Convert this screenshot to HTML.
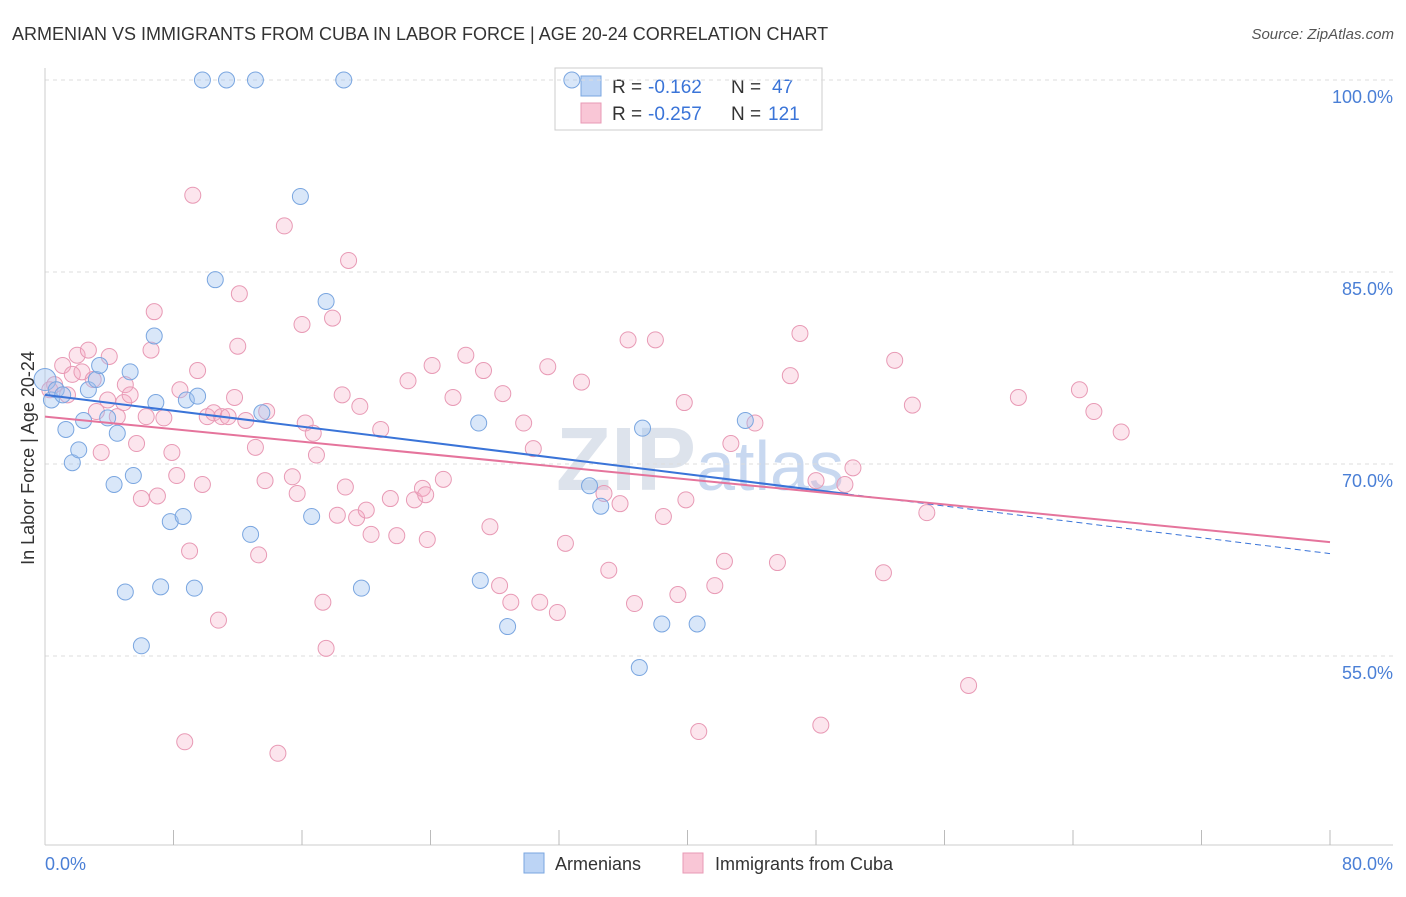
<!DOCTYPE html>
<html><head><meta charset="utf-8"><style>
body{margin:0;background:#fff;font-family:"Liberation Sans",sans-serif;}
svg text{font-family:"Liberation Sans",sans-serif;}
</style></head><body>
<svg id="chart" width="1406" height="892">
<text x="12" y="40" font-size="18" fill="#333">ARMENIAN VS IMMIGRANTS FROM CUBA IN LABOR FORCE | AGE 20-24 CORRELATION CHART</text>
<text x="1394" y="39" font-size="15" fill="#555" text-anchor="end" font-style="italic">Source: ZipAtlas.com</text>
<text x="700" y="490" font-size="90" fill="#dde3ec" text-anchor="middle" font-family="Liberation Serif" font-weight="bold">ZIP<tspan fill="#c8d8f0" font-family="Liberation Sans" font-weight="normal" font-size="70">atlas</tspan></text>
<g>
<rect x="555" y="68" width="267" height="62" fill="#fff" stroke="#ccc"/>
<rect x="581" y="76" width="20" height="20" fill="#bcd4f5" stroke="#7aa6e0"/>
<rect x="581" y="103" width="20" height="20" fill="#f9c6d6" stroke="#e89ab5"/>
<text x="612" y="93" font-size="19" fill="#333">R =</text><text x="648" y="93" font-size="19" fill="#3a74d8">-0.162</text>
<text x="731" y="93" font-size="19" fill="#333">N =</text><text x="772" y="93" font-size="19" fill="#3a74d8">47</text>
<text x="612" y="120" font-size="19" fill="#333">R =</text><text x="648" y="120" font-size="19" fill="#3a74d8">-0.257</text>
<text x="731" y="120" font-size="19" fill="#333">N =</text><text x="768" y="120" font-size="19" fill="#3a74d8">121</text>
</g>
<g id="grid"></g><g id="pts"></g><g id="lines"></g>
<text transform="translate(34,458) rotate(-90)" font-size="18" fill="#333" text-anchor="middle">In Labor Force | Age 20-24</text>
<text x="45" y="870" font-size="18" fill="#4a7fd6">0.0%</text>
<text x="1393" y="870" font-size="18" fill="#4a7fd6" text-anchor="end">80.0%</text>
<g><rect x="524" y="853" width="20" height="20" fill="#bcd4f5" stroke="#7aa6e0"/><text x="555" y="870" font-size="18" fill="#333">Armenians</text></g>
<g><rect x="683" y="853" width="20" height="20" fill="#f9c6d6" stroke="#e89ab5"/><text x="715" y="870" font-size="18" fill="#333">Immigrants from Cuba</text></g>
</svg>
<script>
const yTicks=[100,85,70,55];
const xTicks=[8,16,24,32,40,48,56,64,72,80];
const blueX=[0,0.4,0.7,1.1,1.3,1.7,2.1,2.4,2.7,3.2,3.4,3.9,4.3,4.5,5.0,5.3,5.5,6.0,6.8,6.9,7.2,7.8,8.6,8.8,9.3,9.5,9.8,10.6,11.3,12.8,13.1,13.5,15.9,16.6,17.5,18.6,19.7,27.0,27.1,28.8,32.8,33.9,34.6,37.0,37.2,38.4,40.6,43.6];
const blueY=[76.6,75.0,75.8,75.4,72.7,70.1,71.1,73.4,75.8,76.6,77.7,73.6,68.4,72.4,60.0,77.2,69.1,55.8,80.0,74.8,60.4,65.5,65.9,75.0,60.3,75.3,100,84.4,100,64.5,100,74.0,90.9,65.9,82.7,100,60.3,73.2,60.9,57.3,100,68.3,66.7,54.1,72.8,57.5,57.5,73.4];
const pinkX=[0.3,0.6,1.1,1.4,1.7,2.0,2.3,2.7,3.0,3.2,3.5,3.9,4.0,4.5,4.9,5.0,5.3,5.7,6.0,6.3,6.6,6.8,7.0,7.4,7.9,8.2,8.4,8.7,9.0,9.2,9.5,9.8,10.1,10.5,10.8,11.0,11.4,11.8,12.0,12.1,12.5,13.1,13.3,13.7,13.8,14.5,14.9,15.4,15.7,16.0,16.2,16.7,16.9,17.3,17.5,17.9,18.2,18.5,18.7,18.9,19.4,19.6,20.0,20.3,20.9,21.5,21.9,22.6,23.0,23.5,23.7,23.8,24.1,24.8,25.4,26.2,27.3,27.7,28.3,28.5,29.0,29.8,30.4,30.8,31.3,31.9,32.4,33.4,34.8,35.1,35.8,36.3,36.7,38.0,38.5,39.4,39.8,39.9,40.7,41.7,42.3,42.7,44.2,45.6,46.4,47.0,48.0,48.3,49.8,50.3,52.2,52.9,54.0,54.9,57.5,60.6,64.4,65.3,67.0];
const pinkY=[75.8,76.2,77.7,75.4,77.0,78.5,77.2,78.9,76.6,74.1,70.9,75.0,78.4,73.7,74.8,76.2,75.4,71.6,67.3,73.7,78.9,81.9,67.5,73.6,70.9,69.1,75.8,48.3,63.2,91.0,77.3,68.4,73.7,74.0,57.8,73.7,73.7,75.2,79.2,83.3,73.4,71.3,62.9,68.7,74.1,47.4,88.6,69.0,67.7,80.9,73.2,72.4,70.7,59.2,55.6,81.4,66.0,75.4,68.2,85.9,65.8,74.5,66.4,64.5,72.7,67.3,64.4,76.5,67.2,68.1,67.6,64.1,77.7,68.8,75.2,78.5,77.3,65.1,60.5,75.5,59.2,73.2,71.2,59.2,77.6,58.4,63.8,76.4,67.7,61.7,66.9,79.7,59.1,79.7,65.9,59.8,74.8,67.2,49.1,60.5,62.4,71.6,73.2,62.3,76.9,80.2,68.7,49.6,68.4,69.7,61.5,78.1,74.6,66.2,52.7,75.2,75.8,74.1,72.5];
const blueTrend=[75.4,63.0];
const pinkTrend=[73.7,63.9];
const blueSolidEnd=50;
const NS='http://www.w3.org/2000/svg';
const X=v=>45+v*(1285/80);
const Y=v=>80+(100-v)*12.8;
function mk(t,a,p){const e=document.createElementNS(NS,t);for(const k in a)e.setAttribute(k,a[k]);p.appendChild(e);return e;}
const grid=document.getElementById('grid'),pts=document.getElementById('pts'),lines=document.getElementById('lines');
yTicks.forEach(t=>{
 const l=mk('line',{x1:45,x2:1393,y1:Y(t),y2:Y(t),stroke:'#ddd','stroke-dasharray':'4,4'},grid);
 
 
 const tx=mk('text',{x:1393,y:Y(t)+23,'font-size':18,fill:'#4a7fd6','text-anchor':'end'},grid);
 tx.textContent=t.toFixed(1)+'%';
 
 
});
mk('line',{x1:45,x2:45,y1:68,y2:845,stroke:'#ccc'},grid);
mk('line',{x1:45,x2:1393,y1:845,y2:845,stroke:'#ccc'},grid);
xTicks.forEach(t=>{
 const l=mk('line',{x1:X(t),x2:X(t),y1:830,y2:845,stroke:'#bbb'},grid);
 
 
});
pinkX.forEach((x,i)=>{
 const c=mk('circle',{cx:X(x),cy:Y(pinkY[i]),r:8,fill:'rgba(245,170,195,0.3)',stroke:'#e89ab5','stroke-width':1},pts);
 
 
});
blueX.forEach((x,i)=>{
 const c=mk('circle',{cx:X(x),cy:Y(blueY[i]),r:i==0?11:8,fill:'rgba(160,195,240,0.4)',stroke:'#7aa6e0','stroke-width':1},pts);
 
 
});
const by=x=>blueTrend[0]+(blueTrend[1]-blueTrend[0])*x/80;
let l1=mk('line',{x1:X(0),y1:Y(blueTrend[0]),x2:X(blueSolidEnd),y2:Y(by(blueSolidEnd)),stroke:'#3a74d8','stroke-width':2},lines);


let l2=mk('line',{x1:X(blueSolidEnd),y1:Y(by(blueSolidEnd)),x2:X(80),y2:Y(blueTrend[1]),stroke:'#3a74d8','stroke-width':1,'stroke-dasharray':'6,4'},lines);


let l3=mk('line',{x1:X(0),y1:Y(pinkTrend[0]),x2:X(80),y2:Y(pinkTrend[1]),stroke:'#e5749c','stroke-width':2},lines);


</script>
</body></html>
